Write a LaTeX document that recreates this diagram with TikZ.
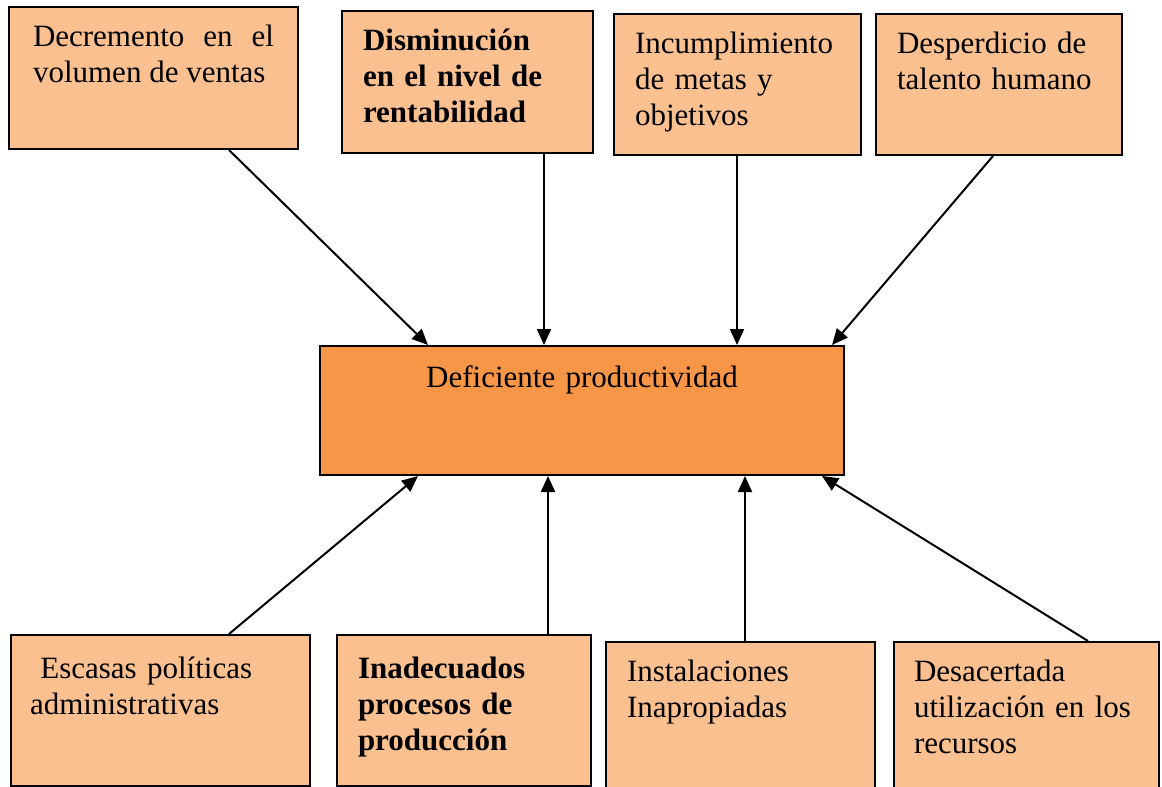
\documentclass[tikz,border=0pt]{standalone}
\usepackage{fontspec}
\setmainfont{Liberation Serif}
\usetikzlibrary{arrows.meta}
\definecolor{CauseFill}{HTML}{FAC090}
\definecolor{CoreFill}{HTML}{F79646}
\tikzset{
  box/.style={draw=black, line width=2pt, anchor=north west, inner ysep=0pt,
    align=left, font=\fontsize{31}{36}\selectfont},
  cause/.style={box, fill=CauseFill, inner xsep=21pt, text height=39pt},
  core/.style={box, fill=CoreFill, align=center},
  arr/.style={line width=2pt, -{Triangle[length=16pt,width=14pt]}},
}
\begin{document}
\begin{tikzpicture}[x=1pt,y=-1pt]
  \useasboundingbox (0,0) rectangle (1162,787);
  % effects
  \node[cause, inner xsep=24pt, text width=241pt, text depth=103pt, align=justify] (decr) at (8,6)
    {Decremento en el volumen de ventas};
  \node[cause, text width=209pt, text depth=103pt] (dism) at (341,10)
    {\bfseries Disminución\\en el nivel de\\rentabilidad};
  \node[cause, text width=205pt, text depth=102pt] (incu) at (613,13)
    {Incumplimiento\\de metas y\\objetivos};
  \node[cause, text width=204pt, text depth=102pt] (desp) at (875,13)
    {Desperdicio de\\talento humano};
  % core problem
  \node[core, inner xsep=10pt, text width=504pt, text height=41pt, text depth=88pt] (prob) at (319,345)
    {Deficiente productividad};
  % causes
  \node[cause, inner xsep=19pt, text width=261pt, text height=43pt, text depth=108pt] (esca) at (10,634)
    {\ Escasas políticas\\administrativas};
  \node[cause, text width=212pt, text height=43pt, text depth=108pt] (inad) at (336,634)
    {\bfseries Inadecuados\\procesos de\\producción};
  \node[cause, text width=227pt, text depth=111pt] (inst) at (605,641)
    {Instalaciones\\Inapropiadas};
  \node[cause, inner xsep=20pt, text width=225pt, text depth=111pt] (desa) at (893,641)
    {Desacertada\\utilización en los\\recursos};
  % arrows
  \draw[arr] ([xshift=221pt]decr.south west) -- ([xshift=109pt]prob.north west);
  \draw[arr] ([xshift=203pt]dism.south west) -- ([xshift=225pt]prob.north west);
  \draw[arr] ([xshift=124pt]incu.south west) -- ([xshift=418pt]prob.north west);
  \draw[arr] ([xshift=118pt]desp.south west) -- ([xshift=513pt]prob.north west);
  \draw[arr] ([xshift=219pt]esca.north west) -- ([xshift=99pt]prob.south west);
  \draw[arr] ([xshift=212pt]inad.north west) -- ([xshift=229pt]prob.south west);
  \draw[arr] ([xshift=140pt]inst.north west) -- ([xshift=426pt]prob.south west);
  \draw[arr] ([xshift=195pt]desa.north west) -- ([xshift=503pt]prob.south west);
\end{tikzpicture}
\end{document}
